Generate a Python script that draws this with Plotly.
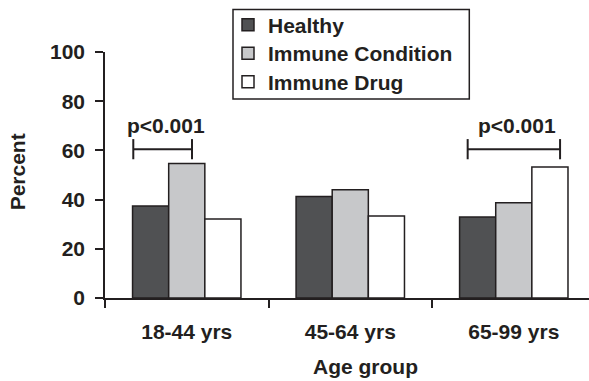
import plotly.graph_objects as go

categories = ["18-44 yrs", "45-64 yrs", "65-99 yrs"]
series_names = ["Healthy", "Immune Condition", "Immune Drug"]
healthy = [37.4, 41.3, 32.9]
immune_condition = [54.7, 44.0, 38.7]
immune_drug = [32.1, 33.3, 53.3]
y_ticks = [0, 20, 40, 60, 80, 100]
sig_label = "p<0.001"

TXT = "#231f20"
FONT = "Liberation Sans, Arial, sans-serif"
colors = ["#505153", "#c7c8ca", "#ffffff"]
FS = 21

# plot area in pixels
L, R, T, B = 105, 589, 52, 298.3
W, H = 589, 381


def px_x(p):
    return (p - L) / (R - L)


def px_y(p):
    return (B - p) / (B - T)


legend_ids = ["legend", "legend2", "legend3"]
legend_tops = [4.5, 33, 61.5]

fig = go.Figure()
for name, vals, col, lg in zip(series_names, [healthy, immune_condition, immune_drug],
                               colors, legend_ids):
    fig.add_trace(go.Bar(
        x=categories, y=vals, name=name, legend=lg,
        marker=dict(color=col, line=dict(color=TXT, width=1.5)),
    ))

# significance brackets
brackets = [(-0.327, 0.032, -0.13), (1.718, 2.283, 2.018)]
by = 60.5
for x0, x1, xt in brackets:
    fig.add_shape(type="line", xref="x", yref="y", x0=x0, x1=x1, y0=by, y1=by,
                  line=dict(color=TXT, width=2))
    for xx in (x0, x1):
        fig.add_shape(type="line", xref="x", yref="y", x0=xx, x1=xx, y0=by - 4.1, y1=by + 4.1,
                      line=dict(color=TXT, width=2))
    fig.add_annotation(x=xt, y=70, xref="x", yref="y", text="<b>%s</b>" % sig_label,
                       showarrow=False, xanchor="center", yanchor="middle",
                       font=dict(size=FS, color=TXT, family=FONT))

fig.add_annotation(x=px_x(17), y=px_y(172.5), xref="paper", yref="paper",
                   text="<b>Percent</b>", textangle=-90, showarrow=False,
                   xanchor="center", yanchor="middle",
                   font=dict(size=FS, color=TXT, family=FONT))
fig.add_annotation(x=px_x(365), y=px_y(366.7), xref="paper", yref="paper",
                   text="<b>Age group</b>", showarrow=False,
                   xanchor="center", yanchor="middle",
                   font=dict(size=FS, color=TXT, family=FONT))

# legend frame
fig.add_shape(type="rect", xref="paper", yref="paper",
              x0=px_x(233), x1=px_x(469.3), y0=px_y(99), y1=px_y(9.5),
              line=dict(color=TXT, width=1.5), fillcolor="rgba(0,0,0,0)", layer="above")

legend_style = dict(xref="container", yref="container", x=228 / W,
                    xanchor="left", yanchor="top", borderwidth=0,
                    bgcolor="rgba(0,0,0,0)",
                    font=dict(size=FS, color=TXT, family=FONT, weight="bold"))

fig.update_layout(
    width=W, height=H,
    margin=dict(l=L, r=W - R, t=T, b=H - B, autoexpand=False),
    paper_bgcolor="white", plot_bgcolor="white",
    barmode="group", bargap=0.337, bargroupgap=0,
    font=dict(family=FONT, size=FS, color=TXT),
    showlegend=True,
)
for lg, top in zip(legend_ids, legend_tops):
    fig.update_layout({lg: dict(legend_style, y=1 - top / H)})

fig.update_xaxes(
    type="category", range=[-0.5, 2.46], showline=True, linecolor=TXT, linewidth=1.5,
    ticks="outside", tickson="boundaries", ticklen=8, tickcolor=TXT, tickwidth=1.5,
    showgrid=False, zeroline=False, ticklabelstandoff=14, automargin=False,
    tickfont=dict(size=FS, color=TXT, family=FONT, weight="bold"),
)
fig.update_yaxes(
    range=[0, 100], tickvals=y_ticks, showline=True, linecolor=TXT, linewidth=1.5,
    ticks="outside", ticklen=8, tickcolor=TXT, tickwidth=1.5, showgrid=False, zeroline=False,
    ticklabelstandoff=6, automargin=False,
    tickfont=dict(size=FS, color=TXT, family=FONT, weight="bold"),
)

fig.write_html("out.html", config={"displayModeBar": False},
               post_script="document.body.style.margin='0';")
